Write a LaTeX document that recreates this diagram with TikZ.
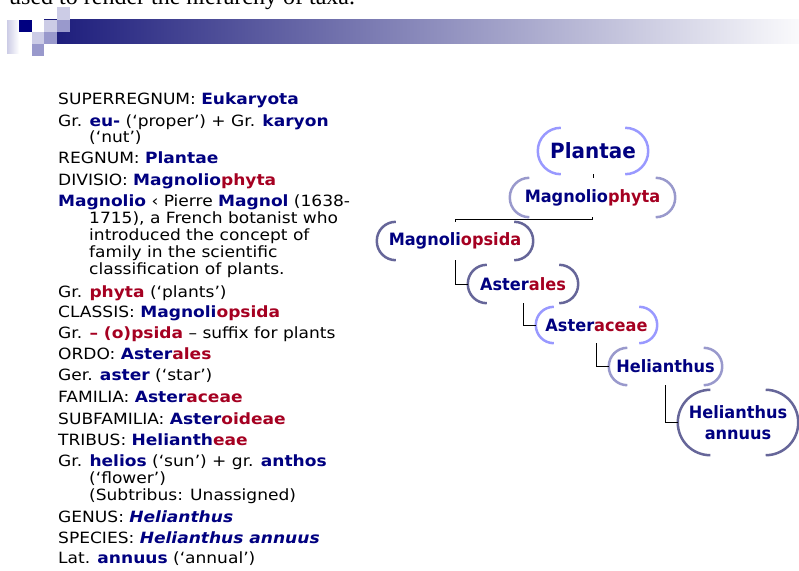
\documentclass[tikz,border=0pt]{standalone}
\usepackage{fontspec}
\setmainfont[FakeStretch=1.1]{DejaVu Sans}
\newfontfamily\headfont{Liberation Serif}
\newfontfamily\treefont[FakeStretch=0.95]{DejaVu Sans}
\definecolor{navy}{RGB}{0,0,128}
\definecolor{crimson}{RGB}{165,0,33}
\definecolor{sqlight}{RGB}{204,204,230}
\definecolor{sqmid}{RGB}{153,153,204}
\definecolor{barA}{RGB}{26,26,122}
\definecolor{barB}{RGB}{135,135,170}
\definecolor{barC}{RGB}{250,250,252}
\definecolor{brlight}{RGB}{153,153,255}
\definecolor{brmid}{RGB}{153,153,204}
\definecolor{brdark}{RGB}{102,102,153}
\newcommand{\taxb}[1]{\textbf{\color{navy}#1}}
\newcommand{\taxr}[1]{\textbf{\color{crimson}#1}}
\tikzset{
  textline/.style={anchor=base west,inner sep=0pt,font=\fontsize{15.5}{17}\selectfont},
  taxon/.style={inner sep=0pt,align=center,text=navy,font=\treefont\bfseries\fontsize{17}{21}\selectfont},
  bracket/.style={line width=2.5pt},
  link/.style={draw=black,line width=0.7pt}
}
\begin{document}
\begin{tikzpicture}[x=1pt,y=-1pt]
\useasboundingbox (0,0) rectangle (799,570);
\clip (0,0) rectangle (799,570);
% title line, cut at the top
\node[anchor=base west,inner sep=0pt,font=\headfont\fontsize{24}{24}\selectfont] (head) at (9,5) {used to render the hierarchy of taxa.};
% header bar and squares
\shade[left color=barA,middle color=barB,right color=barC] (44,19) rectangle (799,43);
\shade[left color=sqlight,right color=white] (7,20) rectangle (19,53);
\fill[navy] (19,20) rectangle (32,32);
\fill[sqlight] (32,32) rectangle (44,44);
\fill[sqmid] (32,44) rectangle (44,56);
\fill[sqlight] (44,20) rectangle (57,32);
\fill[sqmid] (44,32) rectangle (57,44);
\fill[sqlight] (57,7) rectangle (70,20);
\fill[sqmid] (57,20) rectangle (70,32);
% left column
\node[textline] (t1) at (58,104) {SUPERREGNUM: \taxb{Eukaryota}};
\node[textline] (t2) at (58,126) {Gr. \taxb{eu-} (`proper') + Gr. \taxb{karyon}};
\node[textline] (t2b) at (89,142) {(`nut')};
\node[textline] (t3) at (58,163) {REGNUM: \taxb{Plantae}};
\node[textline] (t4) at (58,185) {DIVISIO: \taxb{Magnolio}\taxr{phyta}};
\node[textline] (t5) at (58,206) {\taxb{Magnolio} ‹ Pierre \taxb{Magnol} (1638-};
\node[textline] (t5b) at (89,223) {1715), a French botanist who};
\node[textline] (t5c) at (89,240) {introduced the concept of};
\node[textline] (t5d) at (89,257) {family in the scientific};
\node[textline] (t5e) at (89,274) {classification of plants.};
\node[textline] (t6) at (58,297) {Gr. \taxr{phyta} (`plants')};
\node[textline] (t7) at (58,317) {CLASSIS: \taxb{Magnoli}\taxr{opsida}};
\node[textline] (t8) at (58,338) {Gr. \taxr{-- (o)psida} -- suffix for plants};
\node[textline] (t9) at (58,359) {ORDO: \taxb{Aster}\taxr{ales}};
\node[textline] (t10) at (58,380) {Ger. \taxb{aster} (`star')};
\node[textline] (t11) at (58,402) {FAMILIA: \taxb{Aster}\taxr{aceae}};
\node[textline] (t12) at (58,424) {SUBFAMILIA: \taxb{Aster}\taxr{oideae}};
\node[textline] (t13) at (58,445) {TRIBUS: \taxb{Helianth}\taxr{eae}};
\node[textline] (t14) at (58,466) {Gr. \taxb{helios} (`sun') + gr. \taxb{anthos}};
\node[textline] (t14b) at (89,483) {(`flower')};
\node[textline] (t14c) at (89,500) {(Subtribus: Unassigned)};
\node[textline] (t15) at (58,522) {GENUS: \taxb{\itshape Helianthus}};
\node[textline] (t16) at (58,543) {SPECIES: \taxb{\itshape Helianthus annuus}};
\node[textline] (t17) at (58,563) {Lat. \taxb{annuus} (`annual')};
% tree
\node[taxon,font=\treefont\bfseries\fontsize{21}{24}\selectfont,minimum width=110,minimum height=46] (pl) at (593,151) {Plantae};
\node[taxon,minimum width=165,minimum height=39] (mp) at (592.5,197.5) {Magnolio\textcolor{crimson}{phyta}};
\node[taxon,minimum width=156,minimum height=38] (mo) at (455,241) {Magnoli\textcolor{crimson}{opsida}};
\node[taxon,minimum width=110,minimum height=38] (as) at (523,284) {Aster\textcolor{crimson}{ales}};
\node[taxon,minimum width=121,minimum height=36] (ac) at (596.5,325) {Aster\textcolor{crimson}{aceae}};
\node[taxon,minimum width=113,minimum height=37] (he) at (665.5,366.5) {Helianthus};
\node[taxon,minimum width=120,minimum height=65] (ha) at (738,422.5) {Helianthus\\annuus};
\foreach \n/\c/\r in {pl/brlight/23,mp/brmid/19.5,mo/brdark/19,as/brdark/19,ac/brlight/18,he/brmid/18.5,ha/brdark/32.5}{
  \draw[bracket,\c,rounded corners=\r] ([xshift=\r]\n.north west) -- (\n.north west) -- (\n.south west) -- ([xshift=\r]\n.south west);
  \draw[bracket,\c,rounded corners=\r] ([xshift=-\r]\n.north east) -- (\n.north east) -- (\n.south east) -- ([xshift=-\r]\n.south east);
}
\draw[link] (pl.south) -- (pl.south |- mp.north);
\draw[link] (mp.south) -- ++(0,2) -| (mo.north);
\foreach \u/\v in {mo/as,as/ac,ac/he,he/ha}
  \draw[link] (\u.south) |- (\v.west);
\end{tikzpicture}
\end{document}
